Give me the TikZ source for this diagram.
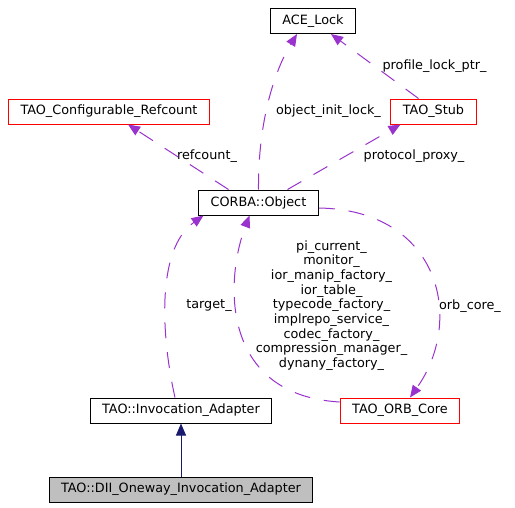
\documentclass[tikz,border=0pt]{standalone}
\usepackage{fontspec}
\setmainfont{DejaVu Sans}
\usepackage{tikz}
\usetikzlibrary{arrows.meta,positioning}
\definecolor{edgepurple}{HTML}{9A32CD}
\definecolor{navyblue}{HTML}{191970}
\definecolor{boxgray}{HTML}{BFBFBF}
\tikzset{
    %Define standard arrow tip
    >={Triangle[length=12pt,width=10pt]},
    %Define style for boxes
    classbox/.style={
           rectangle,
           draw=black, line width=1pt,
           inner xsep=12pt,
           minimum height=25pt,
           font=\fontsize{12.8}{14.7}\selectfont,
           text centered},
    redbox/.style={
           classbox,
           draw=red},
    leafbox/.style={
           classbox,
           fill=boxgray},
    edgelabel/.style={
           inner sep=0pt,
           align=center,
           font=\fontsize{12.8}{14.7}\selectfont},
    % Define arrow styles
    usage/.style={
           ->,
           draw=edgepurple,
           fill=none,
           line width=1pt,
           dash pattern=on 16pt off 14pt},
    inherit/.style={
           ->,
           draw=navyblue,
           line width=1pt}
}
\begin{document}
\begin{tikzpicture}[x=1pt,y=-1pt]
\useasboundingbox (0,0) rectangle (515,507);
 %nodes
\node[classbox] (ace) at (313,21) {ACE\_Lock};
\node[redbox] (refcount) at (109,111.5) {TAO\_Configurable\_Refcount};
\node[redbox] (stub) at (433.5,111.5) {TAO\_Stub};
\node[classbox] (object) at (258.5,202.5) {CORBA::Object};
\node[classbox] (adapter) at (181,410.5) {TAO::Invocation\_Adapter};
\node[redbox] (orbcore) at (400,410.5) {TAO\_ORB\_Core};
\node[leafbox, below=53pt of adapter] (dii) {TAO::DII\_Oneway\_Invocation\_Adapter};
 %labels
\node[edgelabel] (lockLabel) at (328.5,111) {object\_init\_lock\_};
\node[edgelabel] (profileLabel) at (434.5,66) {profile\_lock\_ptr\_};
\node[edgelabel] (refcountLabel) at (207,156) {refcount\_};
\node[edgelabel] (proxyLabel) at (414,156) {protocol\_proxy\_};
\node[edgelabel] (targetLabel) at (209,306) {target\_};
\node[edgelabel] (orbLabel) at (331.5,305.5) {pi\_current\_\\monitor\_\\ior\_manip\_factory\_\\ior\_table\_\\typecode\_factory\_\\implrepo\_service\_\\codec\_factory\_\\compression\_manager\_\\dynany\_factory\_};
\node[edgelabel] (coreLabel) at (470,306) {orb\_core\_};
 %edges
\draw[usage] (object.north) .. controls (258,120) and (275,70) .. ([xshift=-16pt]ace.south);
\draw[usage] ([xshift=-15pt]stub.north) -- ([xshift=18pt]ace.south);
\draw[usage] ([xshift=-30pt]object.north) -- ([xshift=19pt]refcount.south);
\draw[usage] ([xshift=29pt]object.north) -- ([xshift=-33pt]stub.south);
\draw[usage] ([xshift=-6pt]adapter.north) .. controls (162,340) and (155,250) .. ([xshift=-55pt]object.south);
\draw[usage] ([yshift=8.5pt]orbcore.west) .. controls (220,395) and (225,280) .. ([xshift=-9pt]object.south);
\draw[usage] ([yshift=-5.5pt]object.east) .. controls (440,210) and (465,320) .. ([xshift=10pt]orbcore.north);
\draw[inherit] (dii) -- (adapter);
\end{tikzpicture}
\end{document}
